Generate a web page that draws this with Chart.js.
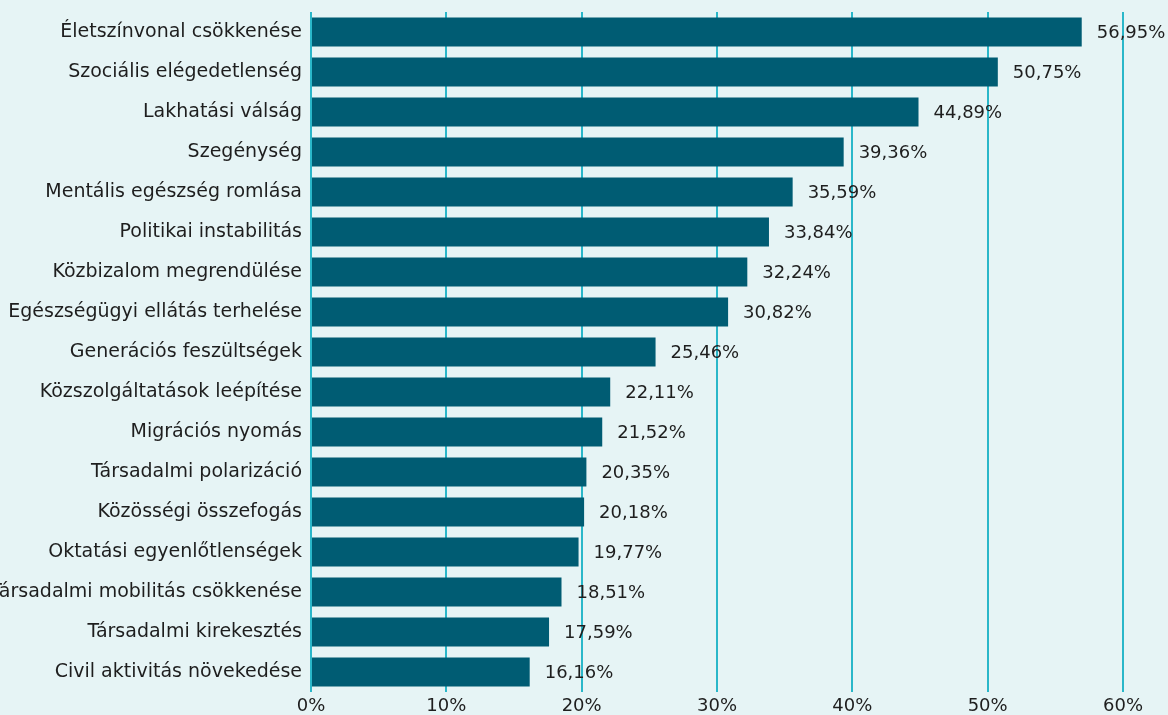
<!DOCTYPE html>
<html>
<head>
<meta charset="utf-8">
<script src="https://cdn.jsdelivr.net/npm/chart.js@4"></script>
<style>
  html, body { margin: 0; padding: 0; background: #e6f4f5; overflow: hidden; }
  canvas { display: block; }
</style>
</head>
<body>
<canvas id="chart" width="1168" height="715"></canvas>
<script>
// categories, top to bottom
const categories = [
    "Életszínvonal csökkenése",
    "Szociális elégedetlenség",
    "Lakhatási válság",
    "Szegénység",
    "Mentális egészség romlása",
    "Politikai instabilitás",
    "Közbizalom megrendülése",
    "Egészségügyi ellátás terhelése",
    "Generációs feszültségek",
    "Közszolgáltatások leépítése",
    "Migrációs nyomás",
    "Társadalmi polarizáció",
    "Közösségi összefogás",
    "Oktatási egyenlőtlenségek",
    "Társadalmi mobilitás csökkenése",
    "Társadalmi kirekesztés",
    "Civil aktivitás növekedése"
];

const values = [56.95, 50.75, 44.89, 39.36, 35.59, 33.84, 32.24, 30.82, 25.46, 22.11, 21.52, 20.35, 20.18, 19.77, 18.51, 17.59, 16.16];

const xTicks = [0, 10, 20, 30, 40, 50, 60];

const fontFamily = "'DejaVu Sans', sans-serif";
const fontSize = 18;
const textColor = "#1e1e1e";

// value labels next to each bar
const valueLabels = {
    id: "valueLabels",
    afterDatasetsDraw(chart) {
        const ctx = chart.ctx;
        const meta = chart.getDatasetMeta(0);
        ctx.save();
        ctx.font = fontSize + "px " + fontFamily;
        ctx.fillStyle = textColor;
        ctx.textAlign = "left";
        ctx.textBaseline = "middle";
        meta.data.forEach((bar, i) => {
            let txt = values[i].toFixed(2).replace(".", ",") + "%";
            ctx.fillText(txt, bar.x + 15, bar.y + 1);
        });
        ctx.restore();
    }
};

new Chart(document.getElementById("chart"), {
    type: "bar",
    data: {
        labels: categories,
        datasets: [{
            data: values,
            backgroundColor: "#005c73",
            barPercentage: 0.72,
            categoryPercentage: 1
        }]
    },
    options: {
        indexAxis: "y",
        responsive: false,
        animation: false,
        layout: { padding: { top: 12, right: 45, left: 0, bottom: 0 } },
        plugins: {
            legend: { display: false },
            tooltip: { enabled: false }
        },
        scales: {
            x: {
                min: 0,
                max: 60,
                afterBuildTicks: (scale) => { scale.ticks = xTicks.map(v => ({ value: v })); },
                afterFit: (scale) => { scale.height = 23; },
                border: { display: false },
                grid: { color: "#2ab7c9", lineWidth: 2, drawTicks: false },
                ticks: {
                    padding: 4,
                    color: textColor,
                    font: { family: fontFamily, size: fontSize },
                    callback: (v) => v + "%"
                }
            },
            y: {
                afterFit: (scale) => {
                    scale.width = 311;
                    scale.paddingTop = 0;
                    scale.paddingBottom = 0;
                },
                border: { display: false },
                grid: { display: false, drawTicks: false },
                ticks: {
                    autoSkip: false,
                    padding: 9,
                    color: textColor,
                    font: { family: fontFamily, size: 19 }
                }
            }
        }
    },
    plugins: [valueLabels]
});
</script>
</body>
</html>
